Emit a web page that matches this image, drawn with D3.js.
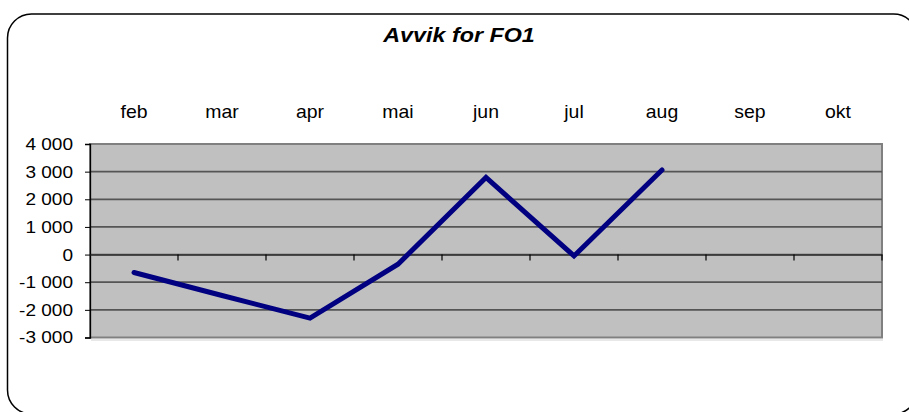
<!DOCTYPE html>
<html><head><meta charset="utf-8">
<script src="https://cdn.jsdelivr.net/npm/d3@7/dist/d3.min.js"></script>
<style>body{margin:0;background:#fff}svg{display:block}text{font-family:"Liberation Sans",Arial,sans-serif}</style>
</head><body><svg id="c" width="909" height="412"></svg>
<script>
const categories = ["feb","mar","apr","mai","jun","jul","aug","sep","okt"];
const values = [-650,-1480,-2300,-350,2790,-50,3060,null,null];
const yTicks = [-3000,-2000,-1000,0,1000,2000,3000,4000];
const title = "Avvik for FO1";

const svg = d3.select("#c");
svg.append("rect").attr("x",7.5).attr("y",14).attr("width",910).attr("height",400)
  .attr("rx",24).attr("fill","#fff").attr("stroke","#000").attr("stroke-width",1.5);

const L=90,R=882,T=144,B=337.5;
const x = d3.scaleBand().domain(categories).range([L,R]);
const y = d3.scaleLinear().domain([-3000,4000]).range([B,T]);

svg.append("rect").attr("x",L+1).attr("y",B+1.5).attr("width",R-L).attr("height",2).attr("fill","#e8e8e8");
svg.append("rect").attr("x",L).attr("y",T).attr("width",R-L).attr("height",B-T)
  .attr("fill","#c0c0c0").attr("stroke","#808080").attr("stroke-width",2);

svg.append("g").selectAll("line").data(yTicks.filter(d=>d!==-3000&&d!==4000)).join("line")
  .attr("x1",L).attr("x2",R).attr("y1",d=>y(d)).attr("y2",d=>y(d))
  .attr("stroke","#555").attr("stroke-width",1.7);

// y axis
const ya = svg.append("g").attr("transform",`translate(${L},0)`)
  .call(d3.axisLeft(y).tickValues(yTicks).tickSize(5).tickPadding(17)
    .tickFormat(d=>d3.format(",")(d).replace(/,/g," ").replace("−","-")));
ya.select(".domain").attr("stroke","#000").attr("stroke-width",1.3);
ya.selectAll(".tick line").attr("stroke","#000");
ya.selectAll(".tick text").attr("font-size",17).attr("fill","#000")
  .attr("transform","translate(-17,0) scale(1.12,1)").attr("x",0);

// x axis at zero
const xa = svg.append("g").attr("transform",`translate(0,${y(0)})`)
  .call(d3.axisBottom(x).tickValues([]).tickSize(0));
xa.select(".domain").attr("stroke","#333").attr("stroke-width",1.5);
const tickPos = categories.map(c=>x(c)+x.bandwidth());
svg.append("g").selectAll("line").data(tickPos).join("line")
  .attr("x1",d=>d).attr("x2",d=>d).attr("y1",y(0)).attr("y2",y(0)+6)
  .attr("stroke","#000").attr("stroke-width",1.2);

// category labels at top
svg.append("g").selectAll("text").data(categories).join("text")
  .attr("transform",d=>`translate(${x(d)+x.bandwidth()/2},118) scale(1.08,1)`)
  .attr("text-anchor","middle")
  .attr("font-size",18).attr("fill","#000").text(d=>d);

// line
const line = d3.line().defined(d=>d.v!=null).x(d=>x(d.c)+x.bandwidth()/2).y(d=>y(d.v));
svg.append("path").datum(categories.map((c,i)=>({c,v:values[i]})))
  .attr("d",line).attr("fill","none").attr("stroke","#000080").attr("stroke-width",5)
  .attr("stroke-linejoin","miter").attr("stroke-linecap","round");

svg.append("text").attr("transform","translate(459,41.5) scale(1.11,1)").attr("text-anchor","middle")
  .attr("font-size",21).attr("font-weight","bold").attr("font-style","italic").text(title);
</script></body></html>
